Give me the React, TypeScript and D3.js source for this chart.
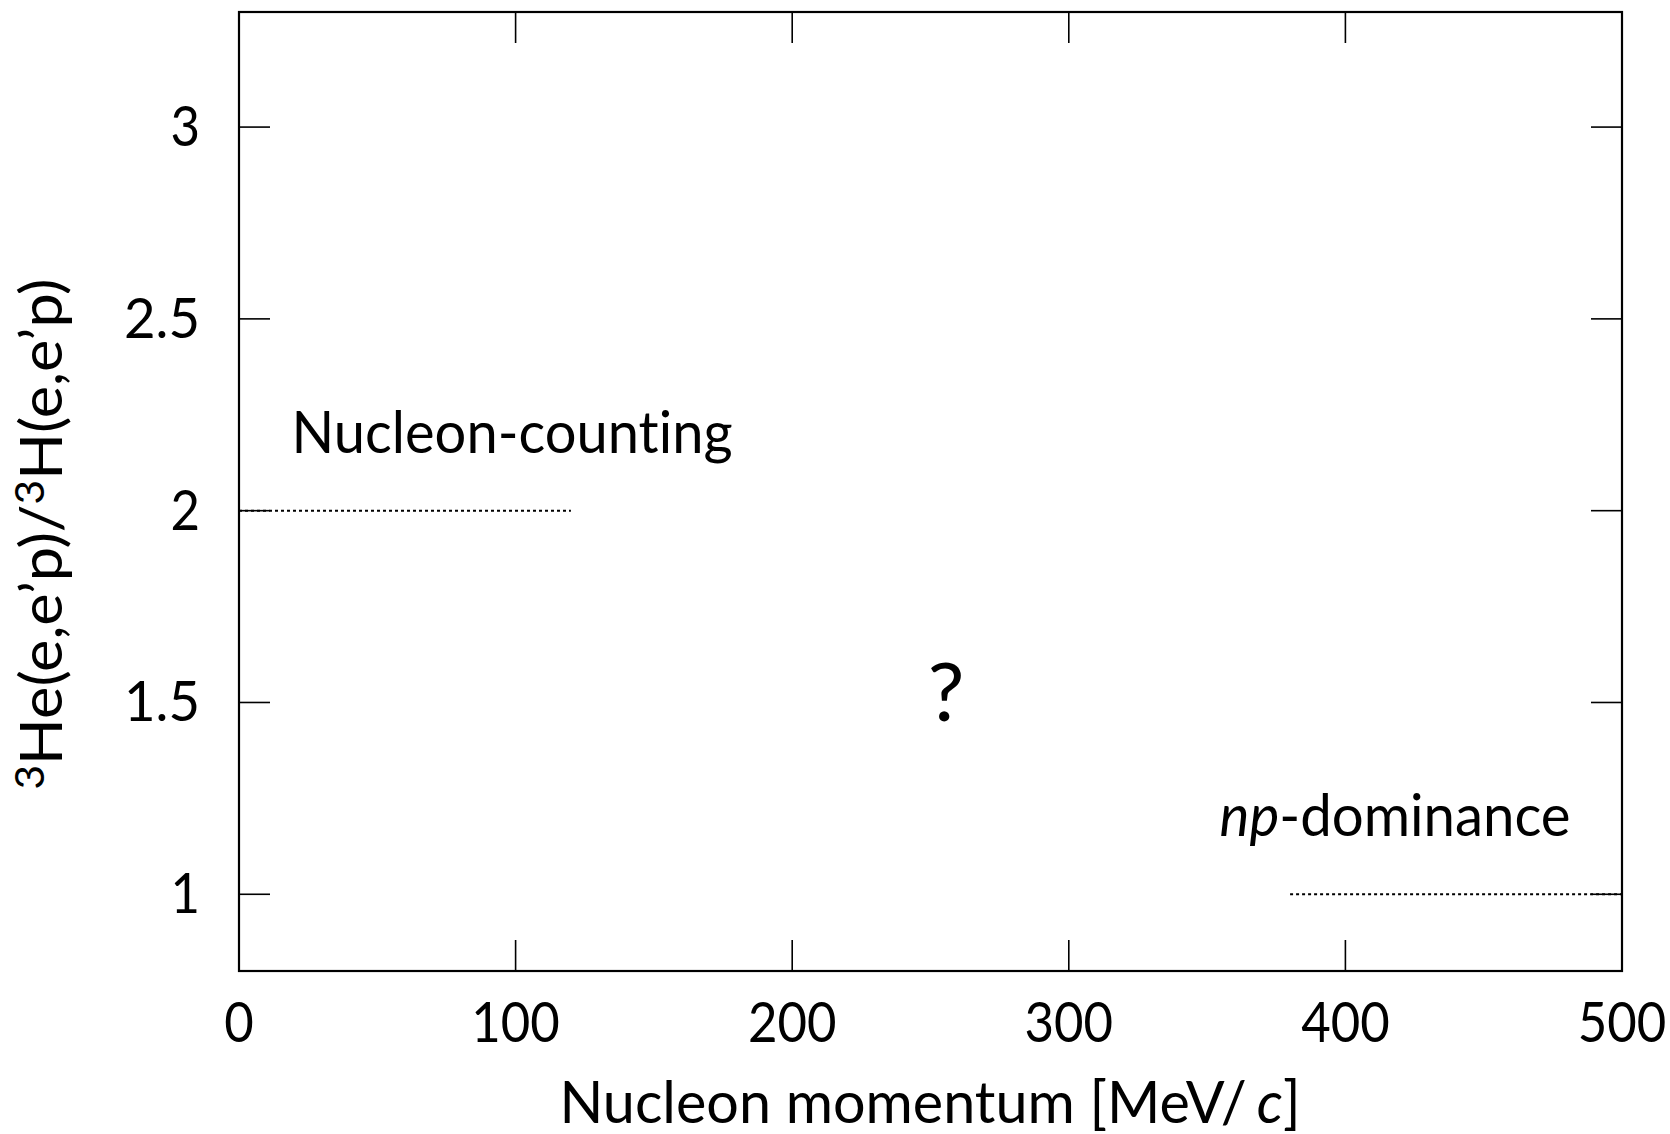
import React from "react";
import * as d3 from "d3";

// Axis ticks
const xTicks = [0, 100, 200, 300, 400, 500];
const yTicks = [1, 1.5, 2, 2.5, 3];

// Limiting cases of the ratio
const countingRatio = 2;
const countingRange = [0, 120];
const dominanceRatio = 1;
const dominanceRange = [380, 500];

const W = 1670;
const H = 1134;
const FONT = "Lato, 'Open Sans', sans-serif";

// Narrow, evenly spaced figures for the tick labels
const labelWidth = (s: string) =>
  s.split("").reduce((w, ch) => w + (ch === "." ? 17 : 29.5), 0);

export default function App() {
  const x = d3.scaleLinear().domain([0, 500]).range([239, 1622]);
  const y = d3.scaleLinear().domain([0.8, 3.3]).range([971, 12]);
  const tickLen = 31;
  const fmt = (v: number) => (Number.isInteger(v) ? String(v) : v.toFixed(1));

  const line = d3
    .line<[number, number]>()
    .x((d) => x(d[0]))
    .y((d) => y(d[1]));

  const countingPath = line(countingRange.map((v) => [v, countingRatio] as [number, number]));
  const dominancePath = line(dominanceRange.map((v) => [v, dominanceRatio] as [number, number]));

  const [x0, x1] = x.range();
  const [y0, y1] = y.range();

  const noLig = { fontVariantLigatures: "none", fontFeatureSettings: '"liga" 0' } as React.CSSProperties;

  return (
    <svg
      width={W}
      height={H}
      style={{ position: "absolute", left: 0, top: 0, background: "#fff", ...noLig }}
      fontFamily={FONT}
    >
      {/* reference lines */}
      <path d={countingPath!} fill="none" stroke="#000" strokeWidth={2} strokeDasharray="3,3" />
      <path d={dominancePath!} fill="none" stroke="#000" strokeWidth={2} strokeDasharray="3,3" />

      {/* ticks on all four sides, pointing inward */}
      {xTicks.map((t) => (
        <g key={"xt" + t}>
          <line x1={x(t)} x2={x(t)} y1={y0} y2={y0 - tickLen} stroke="#000" strokeWidth={1.6} />
          <line x1={x(t)} x2={x(t)} y1={y1} y2={y1 + tickLen} stroke="#000" strokeWidth={1.6} />
          <text
            x={x(t)}
            y={1042}
            textAnchor="middle"
            fontSize={57}
            fill="#000"
            textLength={labelWidth(fmt(t))}
            lengthAdjust="spacingAndGlyphs"
          >
            {fmt(t)}
          </text>
        </g>
      ))}
      {yTicks.map((t) => (
        <g key={"yt" + t}>
          <line x1={x0} x2={x0 + tickLen} y1={y(t)} y2={y(t)} stroke="#000" strokeWidth={1.6} />
          <line x1={x1} x2={x1 - tickLen} y1={y(t)} y2={y(t)} stroke="#000" strokeWidth={1.6} />
          <text
            x={200}
            y={y(t) + 19}
            textAnchor="end"
            fontSize={57}
            fill="#000"
            textLength={labelWidth(fmt(t))}
            lengthAdjust="spacingAndGlyphs"
          >
            {fmt(t)}
          </text>
        </g>
      ))}

      {/* frame */}
      <rect x={x0} y={y1} width={x1 - x0} height={y0 - y1} fill="none" stroke="#000" strokeWidth={2.2} />

      {/* annotations */}
      <text x={x(19)} y={y(2.151)} fontSize={58} fill="#000" textLength={441} lengthAdjust="spacingAndGlyphs">
        Nucleon-counting
      </text>
      <text x={x(354.5)} y={y(1.151)} fontSize={58} fill="#000" textLength={351} lengthAdjust="spacingAndGlyphs">
        <tspan fontStyle="italic">np</tspan>-dominance
      </text>
      <text x={x(255.6)} y={y(1.453)} fontSize={82} textAnchor="middle" fill="#000">
        ?
      </text>

      {/* axis titles */}
      <text x={930} y={1123} textAnchor="middle" fontSize={58} fill="#000" textLength={741} lengthAdjust="spacingAndGlyphs">
        Nucleon momentum [MeV/<tspan fontStyle="italic" dx={10}>c</tspan>]
      </text>
      <text
        transform="translate(62,534) rotate(-90)"
        textAnchor="middle"
        fontSize={58}
        fill="#000"
        textLength={511}
        lengthAdjust="spacingAndGlyphs"
      >
        <tspan fontSize={40} dy={-18}>3</tspan>
        <tspan dy={18}>He(e,e’p)/</tspan>
        <tspan fontSize={40} dy={-18}>3</tspan>
        <tspan dy={18}>H(e,e’p)</tspan>
      </text>
    </svg>
  );
}
